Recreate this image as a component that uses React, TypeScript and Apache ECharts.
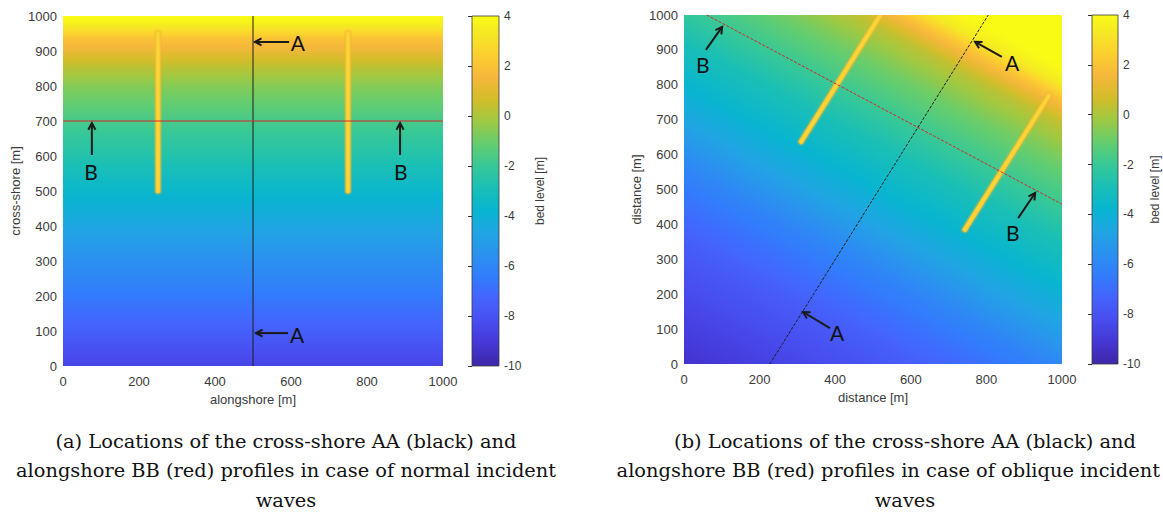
import { useEffect, useRef } from 'react';
import * as echarts from 'echarts';

// Model domain extent in both directions [m]
const domain = [0, 1000];

// (a) Cross-shore bed profile for normal incidence: distance offshore boundary -> shore [m], bed level [m]
const profileDistA = [0, 100, 200, 300, 400, 500, 600, 700, 800, 850, 880, 910, 935, 960, 985, 1000];
const profileLevelA = [-8.6, -7.5, -6.5, -5.6, -4.6, -3.6, -2.6, -1.7, -0.6, 0.2, 0.8, 1.5, 2.0, 3.0, 3.8, 4.0];

// (b) Bed profile along the rotated shore normal, distance from the AA/BB crossing [m]
const profileDistB = [-900, -700, -600, -500, -400, -300, -200, -100, 0, 100, 200, 235, 265, 295, 340];
const profileLevelB = [-9.3, -8.2, -7.6, -6.8, -5.9, -4.7, -3.7, -2.9, -1.9, -0.9, 0.4, 1.4, 2.3, 3.4, 4.0];
const crossingB = [620, 680];
const shoreNormalDegB = 60;

// Groynes [x0, y0, x1, y1]
const groynesA = [[250, 500, 250, 950], [750, 500, 750, 950]];
const groynesB = [[310, 637, 535, 1027], [743, 385, 966, 770]];

// Profile lines (end points)
const profileAA_A = [[500, 0], [500, 1000]];
const profileBB_A = [[0, 700], [1000, 700]];
const profileAA_B = [[227, 0], [805, 1000]];
const profileBB_B = [[60, 1000], [1000, 458]];

// Profile labels: letter, label position, arrow tail, arrow head (data coordinates)
const labelNamesA = ['A', 'A', 'B', 'B'];
const labelPosA = [[618, 923], [616, 91], [74, 557], [889, 557]];
const arrowTailA = [[595, 926], [592, 94], [76, 603], [887, 603]];
const arrowHeadA = [[505, 926], [508, 94], [76, 694], [887, 694]];

const labelNamesB = ['B', 'A', 'A', 'B'];
const labelPosB = [[50, 857], [868, 865], [405, 89], [870, 378]];
const arrowTailB = [[58, 900], [841, 880], [386, 103], [884, 418]];
const arrowHeadB = [[101, 966], [770, 923], [315, 149], [929, 490]];

// Colour bar
const bedLevelRange = [-10, 4];
const bedLevelStep = 2;

const captionA = [
  '(a) Locations of the cross-shore AA (black) and',
  'alongshore BB (red) profiles in case of normal incident',
  'waves',
];
const captionB = [
  '(b) Locations of the cross-shore AA (black) and',
  'alongshore BB (red) profiles in case of oblique incident',
  'waves',
];

// Parula colour map, node index (of 64) and colour
const PARULA: [number, string][] = [
  [1, '#3e26a8'], [5, '#4537d5'], [9, '#484df0'], [13, '#4563fd'], [17, '#327cfc'],
  [21, '#2b91ef'], [25, '#20a5e3'], [29, '#08b5d0'], [33, '#19bfb6'], [37, '#37c897'],
  [41, '#64cd6f'], [45, '#9dc943'], [49, '#d3bd29'], [53, '#f6b73b'], [57, '#fccf30'],
  [61, '#f5e924'], [64, '#f9fb15'],
];

const hexRgb = (h: string) => [1, 3, 5].map((i) => parseInt(h.slice(i, i + 2), 16));

function parula(v: number): string {
  const t = Math.min(1, Math.max(0, (v - bedLevelRange[0]) / (bedLevelRange[1] - bedLevelRange[0])));
  for (let i = 0; i < PARULA.length - 1; i++) {
    const t0 = (PARULA[i][0] - 1) / 63;
    const t1 = (PARULA[i + 1][0] - 1) / 63;
    if (t <= t1 || i === PARULA.length - 2) {
      const f = Math.min(1, Math.max(0, (t - t0) / (t1 - t0)));
      const a = hexRgb(PARULA[i][1]);
      const b = hexRgb(PARULA[i + 1][1]);
      const c = a.map((x, k) => Math.round(x + (b[k] - x) * f));
      return `rgb(${c[0]},${c[1]},${c[2]})`;
    }
  }
  return PARULA[PARULA.length - 1][1];
}

function levelAt(dist: number[], level: number[], s: number): number {
  if (s <= dist[0]) return level[0];
  for (let i = 0; i < dist.length - 1; i++) {
    if (s <= dist[i + 1]) {
      const f = (s - dist[i]) / (dist[i + 1] - dist[i]);
      return level[i] + (level[i + 1] - level[i]) * f;
    }
  }
  return level[level.length - 1];
}

function profileStops(dist: number[], level: number[]) {
  const s0 = dist[0];
  const s1 = dist[dist.length - 1];
  const n = 140;
  const stops = [];
  for (let i = 0; i <= n; i++) {
    const s = s0 + ((s1 - s0) * i) / n;
    stops.push({ offset: i / n, color: parula(levelAt(dist, level, s)) });
  }
  return stops;
}

const AXIS_COLOR = '#3a3a3a';
const SANS = '"Liberation Sans", Arial, sans-serif';

function fieldA(_params: any, api: any) {
  const bl = api.coord([api.value(0), api.value(1)]);
  const tr = api.coord([api.value(2), api.value(3)]);
  const p0 = api.coord([0, profileDistA[0]]);
  const p1 = api.coord([0, profileDistA[profileDistA.length - 1]]);
  return {
    type: 'rect',
    shape: { x: bl[0], y: tr[1], width: tr[0] - bl[0], height: bl[1] - tr[1] },
    style: {
      fill: new echarts.graphic.LinearGradient(0, p0[1], 0, p1[1], profileStops(profileDistA, profileLevelA), true),
    },
  };
}

function fieldB(_params: any, api: any) {
  const bl = api.coord([api.value(0), api.value(1)]);
  const tr = api.coord([api.value(2), api.value(3)]);
  const th = (shoreNormalDegB * Math.PI) / 180;
  const nrm = [Math.cos(th), Math.sin(th)];
  const alg = [Math.sin(th), -Math.cos(th)];
  const [cx, cy] = crossingB;
  const pc = api.coord([cx, cy]);
  const pa = api.coord([cx + alg[0] * 100, cy + alg[1] * 100]);
  const pn = api.coord([cx + nrm[0] * 100, cy + nrm[1] * 100]);
  let ux = pa[0] - pc[0];
  let uy = pa[1] - pc[1];
  const ul = Math.hypot(ux, uy);
  ux /= ul;
  uy /= ul;
  const nx0 = pn[0] - pc[0];
  const ny0 = pn[1] - pc[1];
  const d = nx0 * ux + ny0 * uy;
  const wx = (nx0 - d * ux) / 100;
  const wy = (ny0 - d * uy) / 100;
  const s0 = profileDistB[0];
  const s1 = profileDistB[profileDistB.length - 1];
  return {
    type: 'rect',
    shape: { x: bl[0], y: tr[1], width: tr[0] - bl[0], height: bl[1] - tr[1] },
    style: {
      fill: new echarts.graphic.LinearGradient(
        pc[0] + wx * s0, pc[1] + wy * s0, pc[0] + wx * s1, pc[1] + wy * s1,
        profileStops(profileDistB, profileLevelB), true,
      ),
    },
  };
}

function groyne(_params: any, api: any) {
  const a = api.coord([api.value(0), api.value(1)]);
  const b = api.coord([api.value(2), api.value(3)]);
  const shape = { x1: a[0], y1: a[1], x2: b[0], y2: b[1] };
  return {
    type: 'group',
    children: [
      { type: 'line', shape, style: { stroke: 'rgba(244,175,55,0.35)', lineWidth: 8, lineCap: 'round' } },
      { type: 'line', shape, style: { stroke: '#f8c930', lineWidth: 5, lineCap: 'round' } },
      { type: 'line', shape, style: { stroke: '#fbd63a', lineWidth: 2.5, lineCap: 'round' } },
    ],
  };
}

function annotation(names: string[]) {
  return (params: any, api: any) => {
    const tail = api.coord([api.value(0), api.value(1)]);
    const head = api.coord([api.value(2), api.value(3)]);
    const txt = api.coord([api.value(4), api.value(5)]);
    const ang = Math.atan2(head[1] - tail[1], head[0] - tail[0]);
    const L = 7.5;
    const sp = 0.5;
    const w1 = [head[0] - L * Math.cos(ang - sp), head[1] - L * Math.sin(ang - sp)];
    const w2 = [head[0] - L * Math.cos(ang + sp), head[1] - L * Math.sin(ang + sp)];
    const ink = '#1a1a1a';
    return {
      type: 'group',
      children: [
        { type: 'line', shape: { x1: tail[0], y1: tail[1], x2: head[0], y2: head[1] }, style: { stroke: ink, lineWidth: 2 } },
        { type: 'polyline', shape: { points: [w1, head, w2] }, style: { stroke: ink, lineWidth: 2, fill: 'none' } },
        {
          type: 'text',
          x: txt[0],
          y: txt[1],
          style: {
            text: names[params.dataIndex], fill: '#111', fontSize: 21, fontFamily: 'Lato, "Open Sans", sans-serif',
            align: 'center', verticalAlign: 'middle', textAlign: 'center', textVerticalAlign: 'middle',
          },
        },
      ],
    };
  };
}

function colorbar(_params: any, api: any) {
  const bl = api.coord([api.value(0), api.value(1)]);
  const tr = api.coord([api.value(2), api.value(3)]);
  const stops = PARULA.map(([i, c]) => ({ offset: (i - 1) / 63, color: c }));
  return {
    type: 'rect',
    shape: { x: bl[0], y: tr[1], width: tr[0] - bl[0], height: bl[1] - tr[1] },
    style: {
      fill: new echarts.graphic.LinearGradient(0, bl[1], 0, tr[1], stops, true),
      stroke: '#3a3a3a',
      lineWidth: 0.8,
    },
  };
}

const zip = (tails: number[][], heads: number[][], pos: number[][]) =>
  tails.map((t, i) => [t[0], t[1], heads[i][0], heads[i][1], pos[i][0], pos[i][1]]);

const plain = (v: number) => String(v);

function mapAxis(gridIndex: number, interval: number, name: string, isX: boolean) {
  return {
    gridIndex,
    type: 'value',
    min: domain[0],
    max: domain[1],
    interval,
    name,
    nameLocation: 'middle',
    nameGap: isX ? 24 : 41,
    nameRotate: isX ? 0 : 90,
    nameTextStyle: { color: AXIS_COLOR, fontSize: 13, fontFamily: SANS },
    axisLine: { show: false },
    axisTick: { show: false },
    splitLine: { show: false },
    axisLabel: { color: AXIS_COLOR, fontSize: 13, fontFamily: SANS, margin: isX ? 9 : 6, formatter: plain },
  };
}

function barAxis(gridIndex: number, nameGap: number) {
  return {
    gridIndex,
    type: 'value',
    position: 'right',
    min: bedLevelRange[0],
    max: bedLevelRange[1],
    interval: bedLevelStep,
    name: 'bed level [m]',
    nameLocation: 'middle',
    nameGap,
    nameRotate: 90,
    nameTextStyle: { color: AXIS_COLOR, fontSize: 12, fontFamily: SANS },
    axisLine: { show: false },
    axisTick: { show: true, inside: true, length: 4, lineStyle: { color: '#333', width: 1 } },
    splitLine: { show: false },
    axisLabel: { color: AXIS_COLOR, fontSize: 12, fontFamily: SANS, margin: 5, formatter: plain },
  };
}

// Caption lines; a line may be right-aligned to an edge so it stays on the page
function captionText(lines: string[], cx: number, rightEdge?: number) {
  return lines.map((t, i) => {
    const pinRight = rightEdge !== undefined && i === 1;
    const align = pinRight ? 'right' : 'center';
    return {
      type: 'text',
      x: pinRight ? rightEdge : cx,
      y: 441 + i * 29.5,
      style: {
        text: t, fill: '#111', fontSize: 19.4, fontFamily: '"DejaVu Serif", serif',
        align, verticalAlign: 'middle', textAlign: align, textVerticalAlign: 'middle',
      },
    };
  });
}

export default function App() {
  const ref = useRef<HTMLDivElement>(null);

  useEffect(() => {
    if (!ref.current) return;
    const chart = echarts.init(ref.current, null, { renderer: 'svg' });
    const extent = [[domain[0], domain[0], domain[1], domain[1]]];
    const lineSeries = (xi: number, data: number[][], color: string, dashed: boolean) => ({
      type: 'line',
      xAxisIndex: xi,
      yAxisIndex: xi,
      data,
      showSymbol: false,
      symbol: 'none',
      silent: true,
      lineStyle: { color, width: 1, type: dashed ? [3, 1.5] : 'solid' },
      z: 3,
    });
    chart.setOption({
      animation: false,
      backgroundColor: '#ffffff',
      textStyle: { fontFamily: SANS },
      grid: [
        { left: 63, top: 16, width: 380, height: 350 },
        { left: 472, top: 16, width: 27, height: 350 },
        { left: 684, top: 15, width: 378, height: 349 },
        { left: 1092, top: 15, width: 26, height: 349 },
      ],
      xAxis: [
        mapAxis(0, 200, 'alongshore [m]', true),
        { gridIndex: 1, type: 'value', min: 0, max: 1, show: false },
        mapAxis(2, 200, 'distance [m]', true),
        { gridIndex: 3, type: 'value', min: 0, max: 1, show: false },
      ],
      yAxis: [
        mapAxis(0, 100, 'cross-shore [m]', false),
        barAxis(1, 35),
        mapAxis(2, 100, 'distance [m]', false),
        barAxis(3, 31),
      ],
      series: [
        { type: 'custom', xAxisIndex: 0, yAxisIndex: 0, data: extent, renderItem: fieldA, silent: true, z: 1 },
        { type: 'custom', xAxisIndex: 0, yAxisIndex: 0, data: groynesA, renderItem: groyne, clip: true, silent: true, z: 2 },
        lineSeries(0, profileAA_A, '#1e1e1e', false),
        lineSeries(0, profileBB_A, '#d9262a', false),
        { type: 'custom', xAxisIndex: 0, yAxisIndex: 0, data: zip(arrowTailA, arrowHeadA, labelPosA), renderItem: annotation(labelNamesA), silent: true, z: 4 },
        { type: 'custom', xAxisIndex: 1, yAxisIndex: 1, data: [[0, bedLevelRange[0], 1, bedLevelRange[1]]], renderItem: colorbar, silent: true, z: 1 },

        { type: 'custom', xAxisIndex: 2, yAxisIndex: 2, data: extent, renderItem: fieldB, silent: true, z: 1 },
        { type: 'custom', xAxisIndex: 2, yAxisIndex: 2, data: groynesB, renderItem: groyne, clip: true, silent: true, z: 2 },
        lineSeries(2, profileAA_B, '#1e1e1e', true),
        lineSeries(2, profileBB_B, '#d9262a', true),
        { type: 'custom', xAxisIndex: 2, yAxisIndex: 2, data: zip(arrowTailB, arrowHeadB, labelPosB), renderItem: annotation(labelNamesB), silent: true, z: 4 },
        { type: 'custom', xAxisIndex: 3, yAxisIndex: 3, data: [[0, bedLevelRange[0], 1, bedLevelRange[1]]], renderItem: colorbar, silent: true, z: 1 },
      ],
      graphic: [...captionText(captionA, 286), ...captionText(captionB, 905, 1160)],
    });
    return () => chart.dispose();
  }, []);

  return <div ref={ref} style={{ position: 'fixed', left: 0, top: 0, width: 1163, height: 513 }} />;
}
